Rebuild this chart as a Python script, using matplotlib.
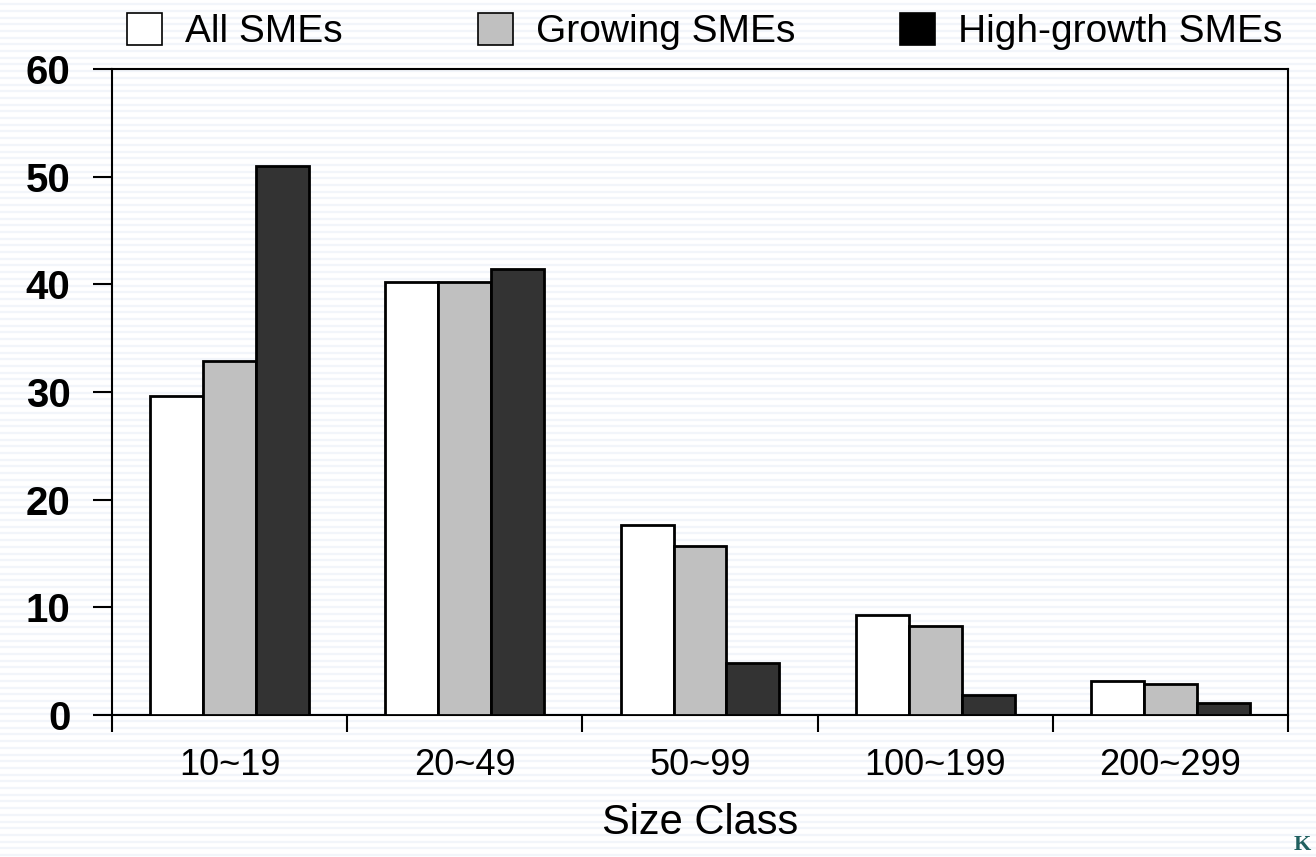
import numpy as np
import matplotlib.pyplot as plt
from matplotlib.patches import Patch

plt.rcParams['font.family'] = ['Liberation Sans', 'DejaVu Sans']

# 규모별 기업 분포 (%)
size_classes = ['10~19', '20~49', '50~99', '100~199', '200~299']
series_names = ['All SMEs', 'Growing SMEs', 'High-growth SMEs']
all_smes = [29.6, 40.2, 17.6, 9.3, 3.2]
growing_smes = [32.9, 40.2, 15.7, 8.3, 2.9]
high_growth_smes = [51.0, 41.4, 4.8, 1.9, 1.1]

bar_colors = ['white', '#c0c0c0', '#333333']
legend_colors = ['white', '#c0c0c0', 'black']

fig = plt.figure(figsize=(13.16, 8.57), dpi=100)

# 슬라이드 배경의 옅은 가로 줄무늬
bg = fig.add_axes([0, 0, 1, 1], zorder=-5)
bg.set_xlim(0, 1)
bg.set_ylim(0, 857)
bg.hlines(np.arange(2, 857, 6.7), 0, 1, color='#f2f5fa', lw=1.6)
bg.axis('off')

ax = fig.add_axes([0.0851, 0.1657, 0.8936, 0.7538])
ax.patch.set_alpha(0)

x = np.arange(len(size_classes))
w = 0.225
for i, vals in enumerate([all_smes, growing_smes, high_growth_smes]):
    ax.bar(x + (i - 1) * w, vals, width=w, color=bar_colors[i],
           edgecolor='black', linewidth=2.0, zorder=3)

ax.set_xlim(-0.5, len(size_classes) - 0.5)
ax.set_ylim(0, 60)
ax.set_yticks(range(0, 61, 10))
ax.tick_params(axis='y', direction='out', length=14, width=1.5, pad=16,
               labelsize=29)
for t in ax.get_yticklabels():
    t.set_fontweight('bold')

# 범주 경계에 눈금, 라벨은 중앙에
ax.set_xticks(np.arange(-0.5, len(size_classes), 1))
ax.set_xticklabels([])
ax.set_xticks(x, minor=True)
ax.set_xticklabels(size_classes, minor=True, fontsize=26)
ax.tick_params(axis='x', which='major', direction='out', length=12, width=1.5)
ax.tick_params(axis='x', which='minor', length=0, pad=24)

for s in ax.spines.values():
    s.set_linewidth(1.5)

ax.set_xlabel('Size Class', fontsize=30, labelpad=14)

# 범례 항목을 각각 따로 배치
legend_x = [0.0905, 0.3572, 0.6779]
for c, name, lx in zip(legend_colors, series_names, legend_x):
    h = Patch(facecolor=c, edgecolor='black', linewidth=1.2)
    fig.legend([h], [name], loc='upper left', bbox_to_anchor=(lx, 0.994),
               frameon=False, fontsize=28, handlelength=0.9,
               handleheight=0.9, handletextpad=0.6, borderpad=0.2,
               borderaxespad=0.0)

fig.text(0.983, 0.002, 'K', color='#1f5f5f', fontsize=16,
         fontweight='bold', family='Liberation Serif', ha='left', va='bottom')

fig.savefig('out.png', dpi=100)
